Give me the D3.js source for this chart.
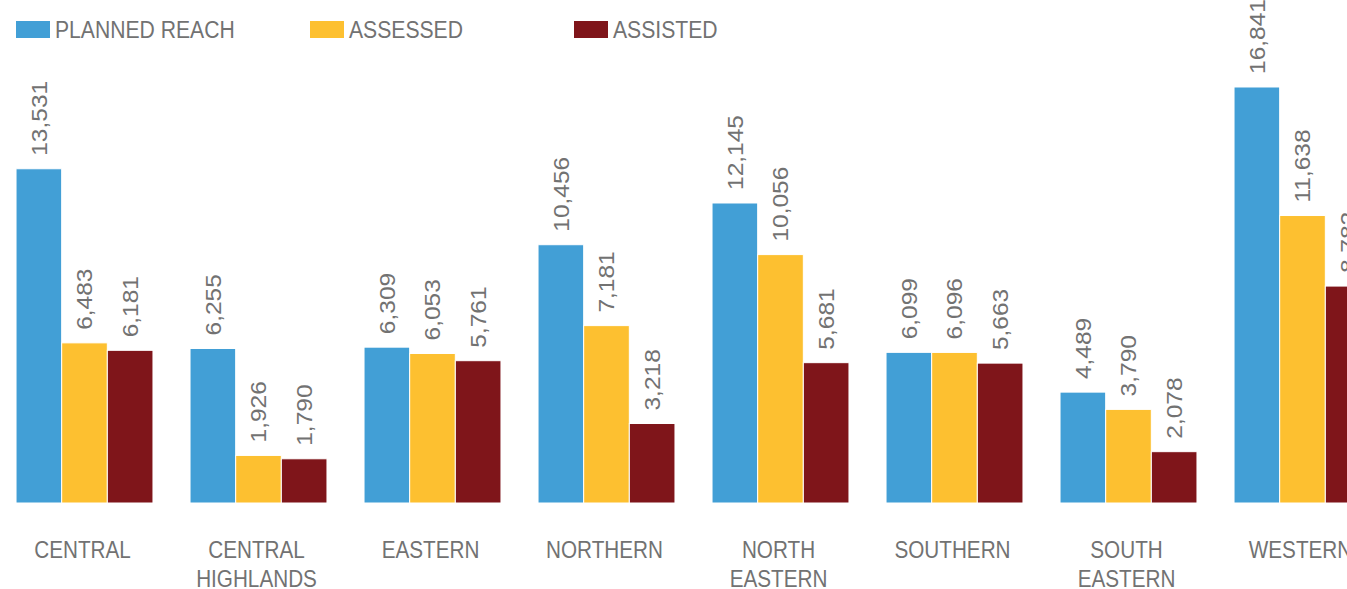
<!DOCTYPE html>
<html>
<head>
<meta charset="UTF-8">
<title>Planned reach, assessed and assisted by region</title>
<script src="https://cdn.jsdelivr.net/npm/d3@7"></script>
<style>
    body { margin: 0; background: #fff; }
    text { font-family: "Liberation Sans", Arial, sans-serif; fill: #727272; }
</style>
</head>
<body>
<script>
// data
var regions = [["CENTRAL"], ["CENTRAL", "HIGHLANDS"], ["EASTERN"], ["NORTHERN"],
               ["NORTH", "EASTERN"], ["SOUTHERN"], ["SOUTH", "EASTERN"], ["WESTERN"]];
var seriesNames = ["PLANNED REACH", "ASSESSED", "ASSISTED"];
var colors = ["#429fd6", "#fdc030", "#7f151a"];
var plannedReach = [13531, 6255, 6309, 10456, 12145, 6099, 4489, 16841];
var assessed = [6483, 1926, 6053, 7181, 10056, 6096, 3790, 11638];
var assisted = [6181, 1790, 5761, 3218, 5681, 5663, 2078, 8782];
var legendX = [16, 310, 574];

var width = 1347, height = 589;
var baseY = 503;
var squish = 0.9;   // text in the reference is a little narrow

var svg = d3.select("body").append("svg")
    .attr("width", width)
    .attr("height", height);

var x0 = d3.scaleBand()
    .domain(d3.range(regions.length))
    .range([-2.5, 1389.5])
    .paddingInner(0.213)
    .paddingOuter(0.1065);

var x1 = d3.scaleBand()
    .domain(d3.range(seriesNames.length))
    .range([0, x0.bandwidth()]);

var y = d3.scaleLinear()
    .domain([0, 18000])
    .range([baseY, baseY - 18000 * 0.024702]);

var table = regions.map(function(r, i) {
    return [plannedReach[i], assessed[i], assisted[i]];
});

var groups = svg.append("g").selectAll("g")
    .data(table)
    .enter().append("g")
    .attr("transform", function(d, i) { return "translate(" + x0(i) + ",0)"; });

groups.selectAll("rect")
    .data(function(d) { return d; })
    .enter().append("rect")
    .attr("x", function(d, i) { return x1(i); })
    .attr("y", function(d) { return y(d); })
    .attr("width", x1.bandwidth())
    .attr("height", function(d) { return baseY - y(d); })
    .attr("fill", function(d, i) { return colors[i]; })
    .attr("stroke", "#fff")
    .attr("stroke-width", 1);

groups.selectAll("text.val")
    .data(function(d) { return d; })
    .enter().append("text")
    .attr("class", "val")
    .attr("transform", function(d, i) {
        return "translate(" + (x1(i) + x1.bandwidth() / 2) + "," + (y(d) - 13) + ") scale(" + squish + ",1) rotate(-90)";
    })
    .attr("dy", "0.36em")
    .style("font-size", "24.5px")
    .text(function(d) { return d3.format(",")(d); });

// category labels
var cat = svg.append("g").selectAll("text")
    .data(regions)
    .enter().append("text")
    .attr("transform", function(d, i) {
        return "translate(" + (x0(i) + x0.bandwidth() / 2 - 2) + ",558) scale(" + squish + ",1)";
    })
    .attr("text-anchor", "middle")
    .style("font-size", "23px");

cat.selectAll("tspan")
    .data(function(d) { return d; })
    .enter().append("tspan")
    .attr("x", 0)
    .attr("y", function(d, i) { return i * 29; })
    .text(function(d) { return d; });

// legend
var legend = svg.append("g").selectAll("g")
    .data(seriesNames)
    .enter().append("g")
    .attr("transform", function(d, i) { return "translate(" + legendX[i] + ",21)"; });

legend.append("rect")
    .attr("width", 34)
    .attr("height", 17)
    .attr("fill", function(d, i) { return colors[i]; });

legend.append("text")
    .attr("transform", "translate(39,17) scale(" + squish + ",1)")
    .style("font-size", "23.5px")
    .text(function(d) { return d; });
</script>
</body>
</html>
